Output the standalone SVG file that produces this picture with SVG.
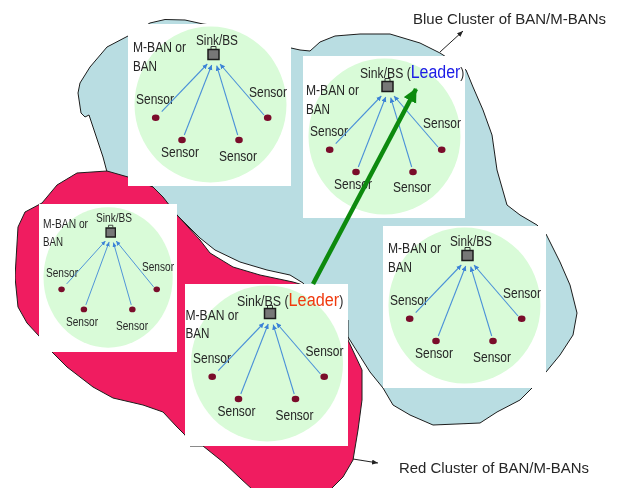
<svg xmlns="http://www.w3.org/2000/svg" width="619" height="488" viewBox="0 0 619 488">
<style>
text{font-family:"Liberation Sans",Arial,sans-serif;fill:#262626;font-size:14.5px}
.blob{stroke:#1c1c1c;stroke-width:1}
.panel{fill:#fff}
.disc{fill:#d9fbd8}
.sensor{fill:#7a0a2c}
.sink{fill:#777;stroke:#1c1c1c;stroke-width:1.5}
.ray{stroke:#4a90d8;stroke-width:1.1;fill:none;marker-end:url(#ah)}
.call{stroke:#222;stroke-width:1;fill:none;marker-end:url(#ck)}
.big{font-size:19px}
.sm{font-size:12.5px}
</style>
<defs>
<filter id="soft" x="0" y="0" width="100%" height="100%"><feGaussianBlur stdDeviation="0.4"/></filter>
<marker id="ah" markerUnits="userSpaceOnUse" markerWidth="6" markerHeight="6" refX="5" refY="2.5" orient="auto"><path d="M0 0L5 2.5L0 5Z" fill="#3b82d6"/></marker>
<marker id="ck" markerUnits="userSpaceOnUse" markerWidth="7" markerHeight="6" refX="6" refY="2.5" orient="auto"><path d="M0 0L6 2.5L0 5Z" fill="#222"/></marker>
<marker id="gh" markerUnits="userSpaceOnUse" markerWidth="16" markerHeight="16" refX="13" refY="7" orient="auto"><path d="M0 0L14 7L0 14Z" fill="#0a8a10"/></marker>
<g id="rays">
<line class="ray" x1="33.7" y1="87.7" x2="79.3" y2="40"/>
<line class="ray" x1="56.3" y1="111" x2="83.7" y2="41"/>
<line class="ray" x1="109.7" y1="111" x2="88.7" y2="41.7"/>
<line class="ray" x1="136" y1="91" x2="92" y2="40"/>
</g>
<g id="base">
<ellipse class="disc" cx="82.5" cy="80.5" rx="76" ry="78"/>
<path class="sink" d="M80 25.500h11v10h-11z"/>
<path d="M83 25V22.500h5V25" fill="none" stroke="#333" stroke-width="1"/>
<ellipse class="sensor" cx="27.700" cy="93.700" rx="3.800" ry="3.200"/>
<ellipse class="sensor" cx="54" cy="116" rx="3.800" ry="3.200"/>
<ellipse class="sensor" cx="111" cy="116" rx="3.800" ry="3.200"/>
<ellipse class="sensor" cx="139.700" cy="93.700" rx="3.800" ry="3.200"/>
</g>
</defs>
<g filter="url(#soft)">
<g id="clusters">
<path id="blue-cluster" class="blob" fill="#b9dde2" d="M128 36L107 47L90 67L80 83L78 93L81 113L85 117L89 115L95 133L103 157L107 172L153 187L177 215L200 238L215 250L240 262L267 270L290 275L303 283L348 337L370 372L383 388L393 405L410 415L433 425L457 424L480 423L497 412L520 400L532 388L546 372L560 355L573 335L577 313L570 285L560 262L546 234L537 225L520 215L507 205L497 170L492 135L483 110L473 87L466 70L440 53L420 43L390 34L360 34L335 36L320 42L310 51L300 50L291 48L250 30L203 24L185 20L165 19.500L150 23Z"/>
<path id="red-cluster" class="blob" fill="#f01a60" d="M107 171L77 173L57 185L42 203L25 212L18 227L15 277L18 307L27 323L39 336L52 352L67 367L93 387L113 398L143 405L163 412L177 427L185 435L190 446L203 446L223 462L240 478L253 490L330 490L343 477L353 460L358 430L362 400L362 370L348 340L348 320L303 285L293 282L260 275L233 267L210 253L200 240L177 215L163 197L153 187L128 177Z"/>
</g>
<g id="ban-a">
<rect class="panel" x="128" y="24" width="163" height="162"/>
<g transform="translate(128 24)"><use href="#base"/>
<text x="5" y="28" textLength="53" lengthAdjust="spacingAndGlyphs">M-BAN or</text>
<text x="5" y="47" textLength="24" lengthAdjust="spacingAndGlyphs">BAN</text>
<text x="68" y="21" textLength="42" lengthAdjust="spacingAndGlyphs">Sink/BS</text>
<text x="8" y="80" textLength="38" lengthAdjust="spacingAndGlyphs">Sensor</text>
<text x="121" y="73" textLength="38" lengthAdjust="spacingAndGlyphs">Sensor</text>
<text x="33" y="133" textLength="38" lengthAdjust="spacingAndGlyphs">Sensor</text>
<text x="91" y="137" textLength="38" lengthAdjust="spacingAndGlyphs">Sensor</text>
</g></g>
<g id="ban-b">
<rect class="panel" x="303" y="56" width="162" height="162"/>
<g transform="translate(302 56)"><use href="#base"/>
<text x="4" y="39" textLength="53" lengthAdjust="spacingAndGlyphs">M-BAN or</text>
<text x="4" y="58" textLength="24" lengthAdjust="spacingAndGlyphs">BAN</text>
<text transform="translate(58 22) scale(.84 1)">Sink/BS (<tspan class="big" style="fill:#1a1ae6">Leader</tspan>)</text>
<text x="8" y="80" textLength="38" lengthAdjust="spacingAndGlyphs">Sensor</text>
<text x="121" y="72" textLength="38" lengthAdjust="spacingAndGlyphs">Sensor</text>
<text x="32" y="133" textLength="38" lengthAdjust="spacingAndGlyphs">Sensor</text>
<text x="91" y="136" textLength="38" lengthAdjust="spacingAndGlyphs">Sensor</text>
</g></g>
<g id="ban-c">
<rect class="panel" x="39" y="204" width="138" height="148"/>
<g transform="translate(38 205) scale(.85 .9)"><use href="#base"/></g>
<text class="sm" x="43" y="228" textLength="45" lengthAdjust="spacingAndGlyphs">M-BAN or</text>
<text class="sm" x="43" y="246" textLength="20" lengthAdjust="spacingAndGlyphs">BAN</text>
<text class="sm" x="96" y="222" textLength="36" lengthAdjust="spacingAndGlyphs">Sink/BS</text>
<text class="sm" x="46" y="277" textLength="32" lengthAdjust="spacingAndGlyphs">Sensor</text>
<text class="sm" x="142" y="271" textLength="32" lengthAdjust="spacingAndGlyphs">Sensor</text>
<text class="sm" x="66" y="326" textLength="32" lengthAdjust="spacingAndGlyphs">Sensor</text>
<text class="sm" x="116" y="330" textLength="32" lengthAdjust="spacingAndGlyphs">Sensor</text>
</g>
<g id="ban-d">
<rect class="panel" x="185" y="284" width="163" height="162"/>
<g transform="translate(184.500 283)"><use href="#base"/>
<text x="1" y="37" textLength="53" lengthAdjust="spacingAndGlyphs">M-BAN or</text>
<text x="1" y="55" textLength="24" lengthAdjust="spacingAndGlyphs">BAN</text>
<text transform="translate(52.500 23) scale(.855 1)">Sink/BS (<tspan class="big" style="fill:#f03a10">Leader</tspan>)</text>
<text x="8.500" y="80" textLength="38" lengthAdjust="spacingAndGlyphs">Sensor</text>
<text x="121" y="73" textLength="38" lengthAdjust="spacingAndGlyphs">Sensor</text>
<text x="33" y="133" textLength="38" lengthAdjust="spacingAndGlyphs">Sensor</text>
<text x="91" y="137" textLength="38" lengthAdjust="spacingAndGlyphs">Sensor</text>
</g></g>
<g id="ban-e">
<rect class="panel" x="383" y="226" width="163" height="162"/>
<g transform="translate(382 225)"><use href="#base"/>
<text x="6" y="28" textLength="53" lengthAdjust="spacingAndGlyphs">M-BAN or</text>
<text x="6" y="47" textLength="24" lengthAdjust="spacingAndGlyphs">BAN</text>
<text x="68" y="21" textLength="42" lengthAdjust="spacingAndGlyphs">Sink/BS</text>
<text x="8" y="80" textLength="38" lengthAdjust="spacingAndGlyphs">Sensor</text>
<text x="121" y="73" textLength="38" lengthAdjust="spacingAndGlyphs">Sensor</text>
<text x="33" y="133" textLength="38" lengthAdjust="spacingAndGlyphs">Sensor</text>
<text x="91" y="137" textLength="38" lengthAdjust="spacingAndGlyphs">Sensor</text>
</g></g>
<g id="connectors">
<use href="#rays" transform="translate(128 24)"/>
<use href="#rays" transform="translate(302 56)"/>
<use href="#rays" transform="translate(38 205) scale(.85 .9)"/>
<use href="#rays" transform="translate(184.500 283)"/>
<use href="#rays" transform="translate(382 225)"/>
<line x1="313" y1="284" x2="416" y2="89" stroke="#0a8a10" stroke-width="4.500" marker-end="url(#gh)"/>
<line class="call" x1="440" y1="52" x2="463" y2="31"/>
<line class="call" x1="353" y1="459" x2="378" y2="463"/>
</g>
<g id="captions">
<text x="413" y="24" textLength="193" lengthAdjust="spacingAndGlyphs">Blue Cluster of BAN/M-BANs</text>
<text x="399" y="473" textLength="190" lengthAdjust="spacingAndGlyphs">Red Cluster of BAN/M-BANs</text>
</g>
</g>
</svg>
